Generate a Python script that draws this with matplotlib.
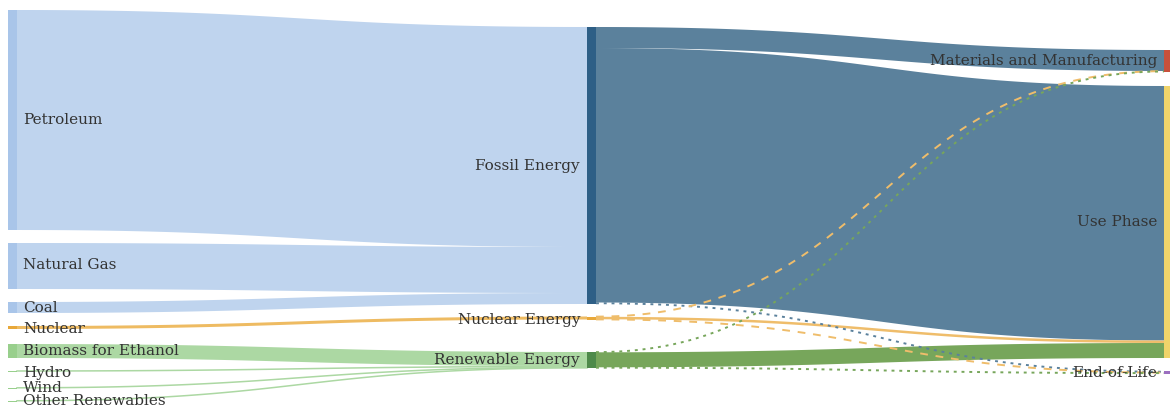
import numpy as np
import matplotlib.pyplot as plt

# sankey: energy sources -> energy type -> life cycle phase
nodes = ["Petroleum", "Natural Gas", "Coal", "Nuclear", "Biomass for Ethanol",
         "Hydro", "Wind", "Other Renewables",
         "Fossil Energy", "Nuclear Energy", "Renewable Energy",
         "Materials and Manufacturing", "Use Phase", "End-of-Life"]
src = [0, 1, 2, 3, 4, 5, 6, 7, 8, 8, 8, 9, 9, 9, 10, 10, 10]
tgt = [8, 8, 8, 9, 10, 10, 10, 10, 11, 12, 13, 11, 12, 13, 11, 12, 13]
vals = [220, 46, 11, 3, 14, 1, 0.6, 0.5,
        21, 254.5, 1.5,
        0.3, 2.5, 0.2,
        0.3, 15, 0.8]

node_colors = ["#a9c5e9", "#a9c5e9", "#a9c5e9", "#e8a83a", "#98cf8c", "#98cf8c", "#98cf8c", "#98cf8c",
               "#2e5f86", "#e8a83a", "#4e8a4a",
               "#c8503c", "#f0d46a", "#9b6fc0"]
link_colors = ["#bfd4ee"] * 3 + ["#eebb62"] + ["#acd8a3"] * 4 + \
              ["#5b819c"] * 3 + ["#efbd6b"] * 3 + ["#77a65b"] * 3

# layout (pixels)
col = [0] * 8 + [1] * 3 + [2] * 3
node_top = [10, 243, 302, 326, 344, 370.5, 387.5, 400.5,
            27, 316.5, 352,
            50, 86, 371]
col_x = [8, 587, 1164]
node_w = 9
scale = 1.0

n = len(nodes)
h_in = np.zeros(n)
h_out = np.zeros(n)
for s, t, v in zip(src, tgt, vals):
    h_out[s] += v * scale
    h_in[t] += v * scale
node_h = np.maximum(h_in, h_out)

fig = plt.figure(figsize=(11.7, 4.05), dpi=100)
ax = fig.add_axes([0, 0, 1, 1])
ax.set_xlim(0, 1170)
ax.set_ylim(405, 0)
ax.axis('off')

# offsets of links at each node, ordered by position of the other end
out_off = {}
in_off = {}
for i in range(n):
    outs = sorted([k for k in range(len(src)) if src[k] == i], key=lambda k: node_top[tgt[k]])
    y = node_top[i]
    for k in outs:
        out_off[k] = y
        y += vals[k] * scale
    ins = sorted([k for k in range(len(tgt)) if tgt[k] == i], key=lambda k: node_top[src[k]])
    y = node_top[i]
    for k in ins:
        in_off[k] = y
        y += vals[k] * scale

tt = np.linspace(0, 1, 80)
def bez(a, b, ya, yb):
    m = (a + b) / 2
    x = (1-tt)**3*a + 3*(1-tt)**2*tt*m + 3*(1-tt)*tt**2*m + tt**3*b
    y = (1-tt)**3*ya + 3*(1-tt)**2*tt*ya + 3*(1-tt)*tt**2*yb + tt**3*yb
    return x, y

thin = []
for k in range(len(src)):
    s, t = src[k], tgt[k]
    x0 = col_x[col[s]] + node_w
    x1 = col_x[col[t]]
    w = vals[k] * scale
    if w < 2:
        thin.append(k)
        continue
    xt, yt = bez(x0, x1, out_off[k], in_off[k])
    xb, yb = bez(x0, x1, out_off[k] + w, in_off[k] + w)
    ax.fill(np.concatenate([xt, xb[::-1]]), np.concatenate([yt, yb[::-1]]),
            color=link_colors[k], lw=0, zorder=1)

for k in thin:
    s, t = src[k], tgt[k]
    x0 = col_x[col[s]] + node_w
    x1 = col_x[col[t]]
    w = vals[k] * scale
    xc, yc = bez(x0, x1, out_off[k] + w / 2, in_off[k] + w / 2)
    if col[s] == 0:
        ax.plot(xc, yc, color=link_colors[k], lw=1.1, zorder=2)
    else:
        ls = (0, (1.5, 2.5)) if link_colors[k] in ("#77a65b", "#5b819c") else (0, (4, 4))
        ax.plot(xc, yc, color=link_colors[k], lw=1.4, ls=ls, zorder=2)

for i in range(n):
    h = max(node_h[i], 1.5)
    ax.add_patch(plt.Rectangle((col_x[col[i]], node_top[i]), node_w, h,
                               color=node_colors[i], lw=0, zorder=3))

# labels
label_y = [120, 265, 308, 329, 351, 373, 388, 401,
           166, 320, 360,
           61, 222, 373]
for i in range(n):
    if col[i] == 0:
        ax.text(23, label_y[i], nodes[i], ha='left', va='center', fontsize=11,
                family='DejaVu Serif', color='#333333', zorder=4)
    else:
        xr = col_x[col[i]] - 7
        ax.text(xr, label_y[i], nodes[i], ha='right', va='center', fontsize=11,
                family='DejaVu Serif', color='#333333', zorder=4)

fig.savefig("out.png", dpi=100)
